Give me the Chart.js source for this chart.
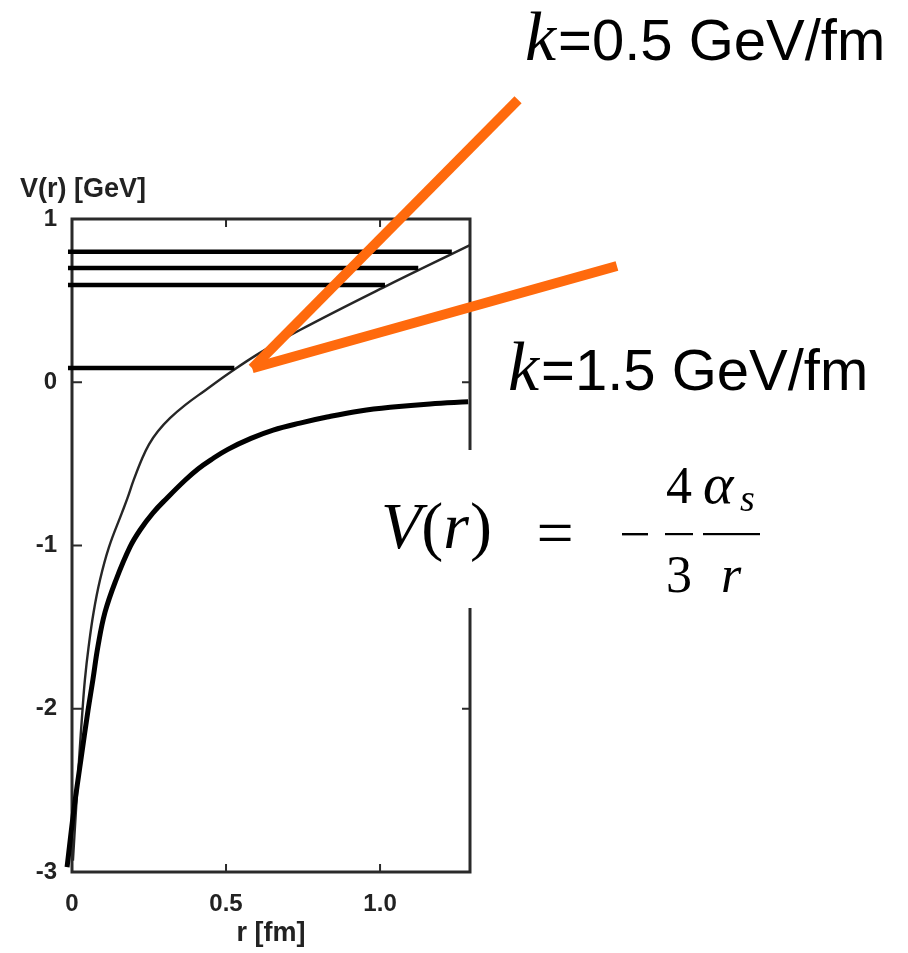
<!DOCTYPE html>
<html>
<head>
<meta charset="utf-8">
<script src="https://cdn.jsdelivr.net/npm/chart.js@4/dist/chart.umd.min.js"></script>
<style>
  html, body { margin: 0; padding: 0; background: #fff; }
  canvas { display: block; }
</style>
</head>
<body>
<canvas id="chart" width="908" height="953"></canvas>
<script>
// Full quark–antiquark potential (Coulomb + linear confinement): r [fm], V [GeV]
const cornellR = [0.003, 0.013, 0.023, 0.034, 0.042, 0.054, 0.070, 0.091, 0.120, 0.162, 0.180, 0.200, 0.227, 0.250, 0.279, 0.318, 0.367, 0.432, 0.513, 0.610, 0.740, 1.010, 1.292];
const cornellV = [-2.93, -2.62, -2.31, -2.01, -1.82, -1.62, -1.41, -1.21, -1.01, -0.80, -0.71, -0.60, -0.47, -0.38, -0.30, -0.22, -0.14, -0.05, 0.06, 0.18, 0.32, 0.58, 0.84];

// Coulomb part alone, V(r) = -4/3 αs / r
const coulombR = [-0.016, 0.006, 0.029, 0.052, 0.068, 0.084, 0.107, 0.143, 0.188, 0.221, 0.263, 0.308, 0.367, 0.409, 0.451, 0.506, 0.581, 0.653, 0.740, 0.828, 0.935, 1.042, 1.162, 1.286];
const coulombV = [-2.97, -2.62, -2.31, -2.01, -1.82, -1.62, -1.41, -1.21, -1.01, -0.905, -0.80, -0.71, -0.60, -0.531, -0.475, -0.411, -0.344, -0.293, -0.25, -0.213, -0.176, -0.152, -0.133, -0.12];

// Bound-state levels: energy [GeV] and where each bar stops [fm]
const levelE    = [0.80, 0.70, 0.595, 0.088];
const levelREnd = [1.233, 1.124, 1.016, 0.527];
const levelRStart = -0.013;

// String-tension guide lines, drawn from their common corner
const steepR   = [0.585, 1.448];
const steepV   = [0.086, 1.730];
const shallowR = [0.585, 1.769];
const shallowV = [0.086, 0.712];

// Axes
const xTicks = [0, 0.5, 1.0];
const xTickLabels = ['0', '0.5', '1.0'];
const yTicks = [-3, -2, -1, 0, 1];
const yTickLabels = ['-3', '-2', '-1', '0', '1'];
const xMin = 0, xMax = 1.292, yMin = -3, yMax = 1;

const pts = (xs, ys) => xs.map((x, i) => ({ x, y: ys[i] }));

const datasets = [
  {
    label: 'k = 0.5 GeV/fm',
    data: pts(steepR, steepV),
    borderColor: '#ff6a0d', borderWidth: 10, borderCapStyle: 'butt',
    order: 0
  },
  {
    label: 'k = 1.5 GeV/fm',
    data: pts(shallowR, shallowV),
    borderColor: '#ff6a0d', borderWidth: 10, borderCapStyle: 'butt',
    order: 0
  },
  ...levelE.map((e, i) => ({
    label: 'level ' + (i + 1),
    data: pts([levelRStart, levelREnd[i]], [e, e]),
    borderColor: '#000', borderWidth: 4.5, borderCapStyle: 'butt',
    order: 2
  })),
  {
    label: 'Coulomb + linear',
    data: pts(cornellR, cornellV),
    borderColor: '#262626', borderWidth: 2.4,
    tension: 0.4,
    order: 3
  },
  {
    label: 'Coulomb',
    data: pts(coulombR, coulombV),
    borderColor: '#000', borderWidth: 5,
    tension: 0.4,
    order: 1
  }
].map(d => Object.assign({ pointRadius: 0, clip: false, fill: false, capBezierPoints: false }, d));

const axisFont = { family: 'Liberation Sans', size: 24, weight: 'bold' };
const titleFont = { family: 'Liberation Sans', size: 27, weight: 'bold' };

// White page, boxed frame with inward ticks, then the overlaid annotations
const decorations = {
  id: 'decorations',
  beforeDraw(chart) {
    const ctx = chart.ctx;
    ctx.save();
    ctx.fillStyle = '#fff';
    ctx.fillRect(0, 0, chart.width, chart.height);
    ctx.restore();
  },
  beforeDatasetsDraw(chart) {
    const { ctx, chartArea: a, scales: { x, y } } = chart;
    ctx.save();
    ctx.strokeStyle = '#2a2a2a';
    ctx.lineWidth = 3;
    ctx.strokeRect(a.left, a.top, a.right - a.left, a.bottom - a.top);
    ctx.lineWidth = 2;
    const t = 8;
    ctx.beginPath();
    xTicks.forEach(v => {
      if (v === xMin) return;
      const px = x.getPixelForValue(v);
      ctx.moveTo(px, a.bottom); ctx.lineTo(px, a.bottom - t);
      ctx.moveTo(px, a.top); ctx.lineTo(px, a.top + t);
    });
    yTicks.forEach(v => {
      if (v === yMin || v === yMax) return;
      const py = y.getPixelForValue(v);
      ctx.moveTo(a.left, py); ctx.lineTo(a.left + t + 2, py);
      ctx.moveTo(a.right, py); ctx.lineTo(a.right - t, py);
    });
    ctx.stroke();

    // vertical axis title, written horizontally above the frame
    ctx.fillStyle = '#222';
    ctx.font = 'bold 27px "Liberation Sans"';
    ctx.textAlign = 'left';
    ctx.textBaseline = 'alphabetic';
    ctx.fillText('V(r) [GeV]', 20, 197);
    ctx.restore();
  },
  afterDatasetsDraw(chart) {
    const ctx = chart.ctx;
    ctx.save();
    ctx.fillStyle = '#000';
    ctx.textBaseline = 'alphabetic';

    // string-tension labels: math-italic k, sans-serif value
    const kLabel = (kx, base, text) => {
      ctx.font = 'italic 70px "Liberation Serif"';
      ctx.textAlign = 'left';
      ctx.fillText('k', kx, base);
      const w = ctx.measureText('k').width;
      ctx.font = '58px "Liberation Sans"';
      ctx.fillText(text, kx + w + 2, base);
    };
    kLabel(525, 60, '=0.5 GeV/fm');
    kLabel(508, 390, '=1.5 GeV/fm');

    // Coulomb formula on its own white panel
    ctx.fillStyle = '#fff';
    ctx.fillRect(367, 450, 400, 158);
    ctx.fillStyle = '#000';
    const axisY = 534;
    let cx = 381;
    const seg = (txt, font) => {
      ctx.font = font;
      ctx.fillText(txt, cx, 548);
      cx += ctx.measureText(txt).width;
    };
    ctx.textAlign = 'left';
    seg('V', 'italic 66px "Liberation Serif"');
    seg('(', '66px "Liberation Serif"');
    seg('r', 'italic 66px "Liberation Serif"');
    cx += 1;
    seg(')', '66px "Liberation Serif"');

    ctx.font = '66px "Liberation Serif"';
    ctx.textAlign = 'center';
    ctx.fillText('=', 555, 555);

    // minus sign and fraction bars
    ctx.fillRect(622, axisY - 1, 26, 2.4);
    ctx.fillRect(665, axisY - 1, 28, 2.2);
    ctx.fillRect(703, axisY - 1, 57, 2.2);

    ctx.font = '52px "Liberation Serif"';
    ctx.textAlign = 'center';
    ctx.fillText('4', 679, 503);
    ctx.fillText('3', 679, 592);

    ctx.textAlign = 'left';
    ctx.font = 'italic 58px "Liberation Serif"';
    ctx.fillText('α', 703, 503);
    ctx.font = 'italic 38px "Liberation Serif"';
    ctx.fillText('s', 740, 511);
    ctx.font = 'italic 52px "Liberation Serif"';
    ctx.textAlign = 'center';
    ctx.fillText('r', 731, 592);
    ctx.restore();
  }
};

new Chart(document.getElementById('chart'), {
  type: 'line',
  data: { datasets },
  plugins: [decorations],
  options: {
    responsive: false,
    animation: false,
    events: [],
    layout: { padding: { top: 219, right: 438, left: 0, bottom: 0 } },
    plugins: { legend: { display: false }, tooltip: { enabled: false } },
    scales: {
      x: {
        type: 'linear', position: 'bottom', min: xMin, max: xMax,
        afterBuildTicks: s => { s.ticks = xTicks.map(v => ({ value: v })); },
        afterFit: s => { s.height = 81; },
        grid: { display: false, drawTicks: false },
        border: { display: false },
        ticks: {
          padding: 18, color: '#222', font: axisFont,
          maxRotation: 0, autoSkip: false,
          callback: v => xTickLabels[xTicks.indexOf(v)]
        },
        title: { display: true, text: 'r [fm]', color: '#222', font: titleFont, padding: { top: 0, bottom: 3 } }
      },
      y: {
        type: 'linear', position: 'left', min: yMin, max: yMax,
        afterBuildTicks: s => { s.ticks = yTicks.map(v => ({ value: v })); },
        afterFit: s => { s.width = 72; },
        grid: { display: false, drawTicks: false },
        border: { display: false },
        ticks: {
          padding: 15, color: '#222', font: axisFont, autoSkip: false,
          callback: v => yTickLabels[yTicks.indexOf(v)]
        }
      }
    }
  }
});
</script>
</body>
</html>
